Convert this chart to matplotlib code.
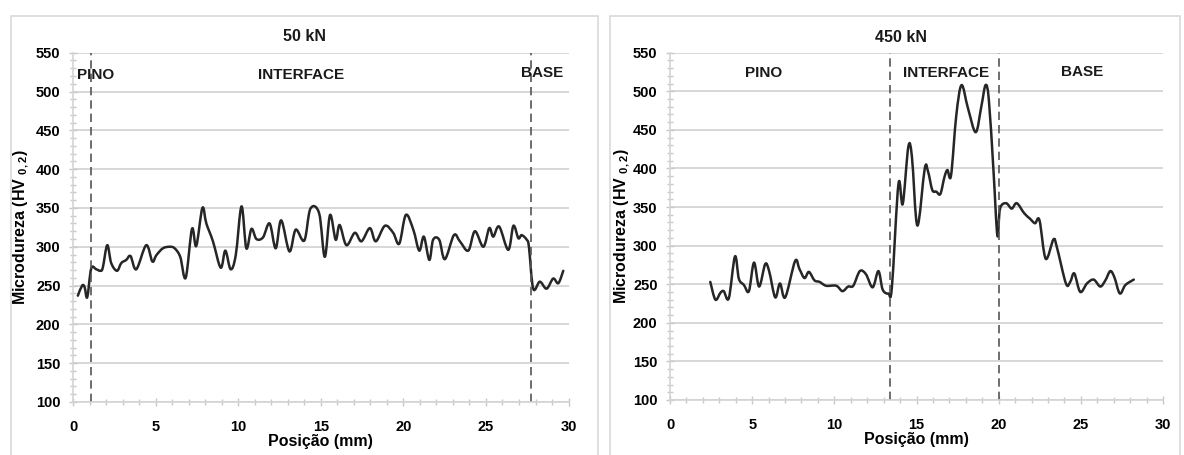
import matplotlib
matplotlib.use("Agg")
import matplotlib.pyplot as plt
from matplotlib.path import Path
from matplotlib.patches import PathPatch, Rectangle
from matplotlib.ticker import MultipleLocator

plt.rcParams['font.family'] = ['Liberation Sans', 'DejaVu Sans']
plt.rcParams['font.weight'] = 'bold'
plt.rcParams['mathtext.fontset'] = 'custom'
plt.rcParams['mathtext.rm'] = 'Liberation Sans:bold'
plt.rcParams['mathtext.bf'] = 'Liberation Sans:bold'

# 50 kN profile
x50 = [0.29, 0.55, 0.7, 0.86, 1.1, 1.4, 1.65, 1.8, 2.07, 2.31, 2.66, 2.92, 3.22, 3.48,
       3.83, 4.43, 4.8, 5.04, 5.44, 5.85, 6.15, 6.49, 6.82, 7.2, 7.46, 7.83, 8.07, 8.47,
       8.94, 9.22, 9.54, 9.85, 10.2, 10.49, 10.8, 11.1, 11.5, 11.9, 12.27, 12.6, 13.1,
       13.48, 14.0, 14.37, 14.9, 15.24, 15.56, 15.9, 16.14, 16.55, 17.06, 17.46, 17.97,
       18.33, 18.88, 19.38, 19.75, 20.15, 20.6, 20.96, 21.24, 21.57, 21.8, 22.17, 22.51,
       23.06, 23.42, 23.93, 24.33, 24.84, 25.2, 25.44, 25.8, 26.35, 26.66, 26.96, 27.16,
       27.47, 27.6, 27.86, 28.26, 28.67, 29.07, 29.38, 29.68]
y50 = [237, 250, 248, 235, 272, 271, 269, 273, 302, 279, 269, 279, 283, 288,
       271, 302, 281, 289, 298, 300, 298, 287, 260, 323, 301, 350, 330, 307,
       273, 295, 271, 289, 352, 298, 323, 310, 312, 330, 298, 334, 294,
       322, 308, 349, 343, 287, 341, 309, 328, 302, 318, 307, 324,
       307, 327, 318, 304, 341, 322, 295, 313, 283, 309, 309, 284,
       315, 307, 295, 320, 300, 324, 313, 326, 296, 327, 311, 315,
       309, 300, 246, 255, 246, 259, 253, 269]

# 450 kN profile
x450 = [2.45, 2.76, 3.07, 3.27, 3.58, 3.95, 4.19, 4.5, 4.8, 5.11, 5.42, 5.79, 6.03, 6.4,
        6.69, 7.01, 7.61, 7.87, 8.18, 8.45, 8.79, 9.1, 9.5, 10.12, 10.49, 10.84, 11.15,
        11.55, 11.92, 12.33, 12.68, 12.94, 13.29, 13.5, 13.9, 14.16, 14.5, 14.72, 15.05,
        15.5, 15.7, 15.96, 16.2, 16.45, 16.7, 16.88, 17.1, 17.42, 17.74, 18.13, 18.6,
        18.94, 19.2, 19.4, 19.68, 19.92, 20.08, 20.45, 20.79, 21.1, 21.55, 21.9, 22.21,
        22.48, 22.86, 23.33, 23.54, 24.09, 24.35, 24.6, 24.96, 25.37, 25.78, 26.18,
        26.49, 26.79, 27.04, 27.37, 27.71, 28.22]
y450 = [253, 230, 239, 241, 232, 286, 257, 249, 241, 278, 247, 276, 267, 233,
        251, 233, 280, 270, 258, 266, 255, 253, 248, 248, 241, 247, 248,
        267, 263, 246, 267, 243, 238, 246, 380, 354, 428, 415, 326,
        400, 396, 372, 370, 367, 389, 398, 391, 469, 508, 478, 447,
        480, 508, 489, 398, 313, 348, 355, 348, 355, 342, 335, 329,
        333, 283, 308, 298, 251, 253, 264, 240, 251, 256, 247,
        255, 267, 259, 238, 249, 256]

titles = ['50 kN', '450 kN']
zone_edges = [[1.1, 27.7], [13.4, 20.0]]
zone_names = ['PINO', 'INTERFACE', 'BASE']
zone_label_x = [[0.25, 13.8, 28.4], [5.7, 16.8, 25.05]]
zone_label_ha = [['left', 'center', 'center'], ['center', 'center', 'center']]
zone_label_y = [[521, 521, 524], [524, 524, 525]]
ylabel_x = [-0.085, -0.078]

LINE = '#262626'
GRID = '#d4d4d4'


def smooth_path(xs, ys):
    # excel-like smoothed line: catmull-rom segments as cubic beziers
    n = len(xs)
    verts = [(xs[0], ys[0])]
    codes = [Path.MOVETO]
    for i in range(n - 1):
        i0 = max(i - 1, 0)
        i3 = min(i + 2, n - 1)
        c1 = (xs[i] + (xs[i + 1] - xs[i0]) / 6.0, ys[i] + (ys[i + 1] - ys[i0]) / 6.0)
        c2 = (xs[i + 1] - (xs[i3] - xs[i]) / 6.0, ys[i + 1] - (ys[i3] - ys[i]) / 6.0)
        verts += [c1, c2, (xs[i + 1], ys[i + 1])]
        codes += [Path.CURVE4] * 3
    return Path(verts, codes)


fig = plt.figure(figsize=(11.84, 4.55), dpi=100)

# panel frames
fig.patches.append(Rectangle((0.009, -0.02), 0.496, 0.9855, transform=fig.transFigure,
                             fill=False, edgecolor='#d9d9d9', lw=1.2))
fig.patches.append(Rectangle((0.515, -0.02), 0.482, 0.985, transform=fig.transFigure,
                             fill=False, edgecolor='#d9d9d9', lw=1.2))

ax1 = fig.add_axes([0.0617, 0.1165, 0.4185, 0.7677])
ax2 = fig.add_axes([0.5659, 0.1209, 0.4164, 0.7633])

series = [(x50, y50), (x450, y450)]
for k, ax in enumerate([ax1, ax2]):
    xs, ys = series[k]
    ax.set_xlim(0, 30)
    ax.set_ylim(100, 550)
    ax.xaxis.set_major_locator(MultipleLocator(5))
    ax.xaxis.set_minor_locator(MultipleLocator(1))
    ax.yaxis.set_major_locator(MultipleLocator(50))
    ax.yaxis.set_minor_locator(MultipleLocator(10))
    ax.grid(axis='y', which='major', color=GRID, lw=1.3)
    ax.set_axisbelow(True)
    for s in ['top', 'right']:
        ax.spines[s].set_visible(False)
    for s in ['left', 'bottom']:
        ax.spines[s].set_color(GRID)
        ax.spines[s].set_linewidth(1.2)
    ax.tick_params(which='both', direction='inout', color='#c8c8c8', width=1)
    ax.tick_params(which='major', length=6)
    ax.tick_params(which='minor', length=4)
    ax.tick_params(axis='x', pad=10, labelsize=10.5)
    ax.tick_params(axis='y', pad=6, labelsize=10.5)
    for lab in ax.get_xticklabels() + ax.get_yticklabels():
        lab.set_fontweight('bold')

    for xe in zone_edges[k]:
        ax.axvline(xe, color='#555555', lw=1.2, ls=(0, (5, 3)))

    ax.add_patch(PathPatch(smooth_path(xs, ys), fill=False, edgecolor=LINE, lw=1.8,
                           joinstyle='round', capstyle='round'))

    for name, lx, ha, ly in zip(zone_names, zone_label_x[k], zone_label_ha[k], zone_label_y[k]):
        ax.text(lx, ly, name, ha=ha, va='center', fontsize=11, fontweight='bold', color='#1a1a1a')

    ax.text(0.468, 1.045, titles[k], transform=ax.transAxes, ha='center', va='center',
            fontsize=11.5, fontweight='bold', color='#1a1a1a')
    ax.set_xlabel('Posição (mm)', fontsize=11.5, fontweight='bold')
    ax.xaxis.set_label_coords(0.5, -0.092)
    ax.set_ylabel(r'Microdureza (HV $_{0,2}$)', fontsize=11.5, fontweight='bold')
    ax.yaxis.set_label_coords(ylabel_x[k], 0.5)

fig.savefig('out.png', dpi=100)
